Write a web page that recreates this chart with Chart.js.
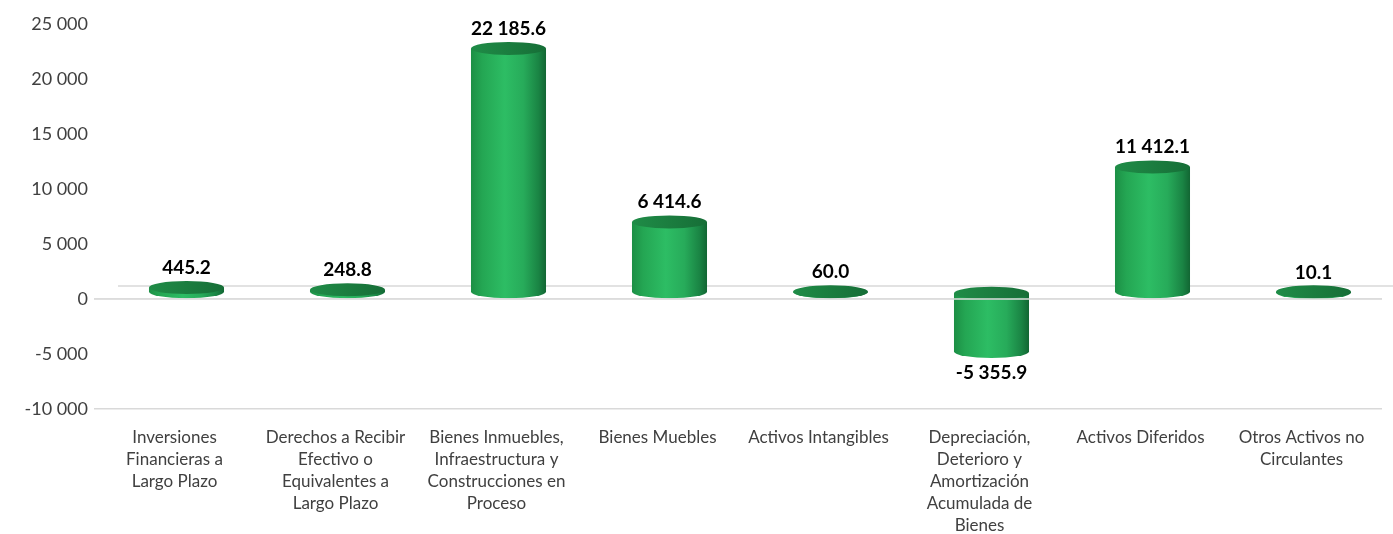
<!DOCTYPE html>
<html>
<head>
<meta charset="utf-8">
<script src="https://cdn.jsdelivr.net/npm/chart.js@4.4.0/dist/chart.umd.min.js"></script>
<style>
  body { margin: 0; background: #fff; }
  #wrap { width: 1393px; height: 534px; position: relative; }
</style>
</head>
<body>
<div id="wrap"><canvas id="Activos"></canvas></div>
<script>
const categories = [
  ["Inversiones", "Financieras a", "Largo Plazo"],
  ["Derechos a Recibir", "Efectivo o", "Equivalentes a", "Largo Plazo"],
  ["Bienes Inmuebles,", "Infraestructura y", "Construcciones en", "Proceso"],
  ["Bienes Muebles"],
  ["Activos Intangibles"],
  ["Depreciación,", "Deterioro y", "Amortización", "Acumulada de", "Bienes"],
  ["Activos Diferidos"],
  ["Otros Activos no", "Circulantes"]
]
const values = [445.2, 248.8, 22185.6, 6414.6, 60.0, -5355.9, 11412.1, 10.1]
const yMin = -10000
const yMax = 25000
const yStep = 5000

function fmtThousands(n) {
  return String(n).replace(/\B(?=(\d{3})+(?!\d))/g, ' ')
}
function fmtValue(v) {
  let parts = Math.abs(v).toFixed(1).split('.')
  return (v < 0 ? '-' : '') + fmtThousands(parts[0]) + '.' + parts[1]
}

// depth offset of the cylinders (3D look)
const depthX = 12
const depthY = -6.5

function drawCylinder(ctx, cx, yTop, yBot, w) {
  const rx = w / 2
  const ry = 6.5
  const left = cx - rx, right = cx + rx
  let body = ctx.createLinearGradient(left, 0, right, 0)
  body.addColorStop(0, '#1c8f45')
  body.addColorStop(0.15, '#24a653')
  body.addColorStop(0.45, '#2dbd64')
  body.addColorStop(0.7, '#27ab5a')
  body.addColorStop(0.9, '#1a8444')
  body.addColorStop(1, '#126633')
  ctx.beginPath()
  ctx.moveTo(left, yTop)
  ctx.lineTo(left, yBot)
  ctx.ellipse(cx, yBot, rx, ry, 0, Math.PI, 0, true)
  ctx.lineTo(right, yTop)
  ctx.closePath()
  ctx.fillStyle = body
  ctx.fill()
  let top = ctx.createLinearGradient(left, 0, right, 0)
  top.addColorStop(0, '#1f8c47')
  top.addColorStop(0.5, '#1b7d3f')
  top.addColorStop(1, '#166e37')
  ctx.beginPath()
  ctx.ellipse(cx, yTop, rx, ry, 0, 0, Math.PI * 2)
  ctx.fillStyle = top
  ctx.fill()
}

const cylinders = {
  id: 'cylinders',
  beforeDatasetsDraw(chart) {
    // back edge of the floor
    const ctx = chart.ctx
    const y0 = chart.scales.y.getPixelForValue(0)
    ctx.save()
    ctx.strokeStyle = '#d9d9d9'
    ctx.lineWidth = 1.5
    ctx.beginPath()
    ctx.moveTo(chart.chartArea.left + 2 * depthX, y0 + 2 * depthY)
    ctx.lineTo(chart.width, y0 + 2 * depthY)
    ctx.stroke()
    ctx.restore()
  },
  afterDatasetsDraw(chart) {
    const ctx = chart.ctx
    const meta = chart.getDatasetMeta(0)
    const yScale = chart.scales.y
    ctx.save()
    meta.data.forEach((bar, i) => {
      const cx = bar.x + depthX
      const yv = bar.y + depthY
      const yb = bar.base + depthY
      drawCylinder(ctx, cx, Math.min(yv, yb), Math.max(yv, yb), bar.width)
    })
    // front edge of the floor over the bars
    const y0 = yScale.getPixelForValue(0)
    ctx.strokeStyle = '#dcdcdc'
    ctx.lineWidth = 1.5
    ctx.beginPath()
    ctx.moveTo(chart.chartArea.left, y0)
    ctx.lineTo(chart.chartArea.right, y0)
    ctx.stroke()
    // value labels
    ctx.font = 'bold 19px Lato'
    ctx.fillStyle = '#000'
    ctx.textAlign = 'center'
    ctx.textBaseline = 'middle'
    meta.data.forEach((bar, i) => {
      const v = values[i]
      const cx = bar.x + depthX
      const yv = bar.y + depthY
      ctx.fillText(fmtValue(v), cx, v >= 0 ? yv - 20 : yv + 21)
    })
    ctx.restore()
  }
}

const config = {
  type: 'bar',
  data: {
    labels: categories,
    datasets: [{
      data: values,
      backgroundColor: 'rgba(0,0,0,0)',
      borderWidth: 0,
      categoryPercentage: 1,
      barPercentage: 0.466
    }]
  },
  options: {
    responsive: true,
    maintainAspectRatio: false,
    animation: false,
    layout: { padding: { top: 24, right: 11, left: 0, bottom: 0 } },
    plugins: {
      legend: { display: false },
      tooltip: { enabled: false }
    },
    scales: {
      x: {
        grid: { display: false, drawTicks: false },
        border: { display: false },
        ticks: {
          color: '#404040',
          font: { family: 'Lato', size: 17, lineHeight: 1.3 },
          padding: 17,
          maxRotation: 0,
          autoSkip: false
        },
        afterFit: (scale) => { scale.height = 125 }
      },
      y: {
        min: yMin,
        max: yMax,
        grid: {
          drawTicks: false,
          lineWidth: 1.5,
          color: (c) => (c.tick && (c.tick.value === 0 || c.tick.value === yMin)) ? '#d9d9d9' : 'rgba(0,0,0,0)'
        },
        border: { display: false },
        ticks: {
          stepSize: yStep,
          color: '#404040',
          font: { family: 'Lato', size: 18 },
          padding: 6,
          callback: (v) => (v < 0 ? '-' : '') + fmtThousands(Math.abs(v))
        },
        afterFit: (scale) => { scale.width = 94 }
      }
    }
  },
  plugins: [cylinders]
}

new Chart(document.getElementById('Activos'), config)
</script>
</body>
</html>
